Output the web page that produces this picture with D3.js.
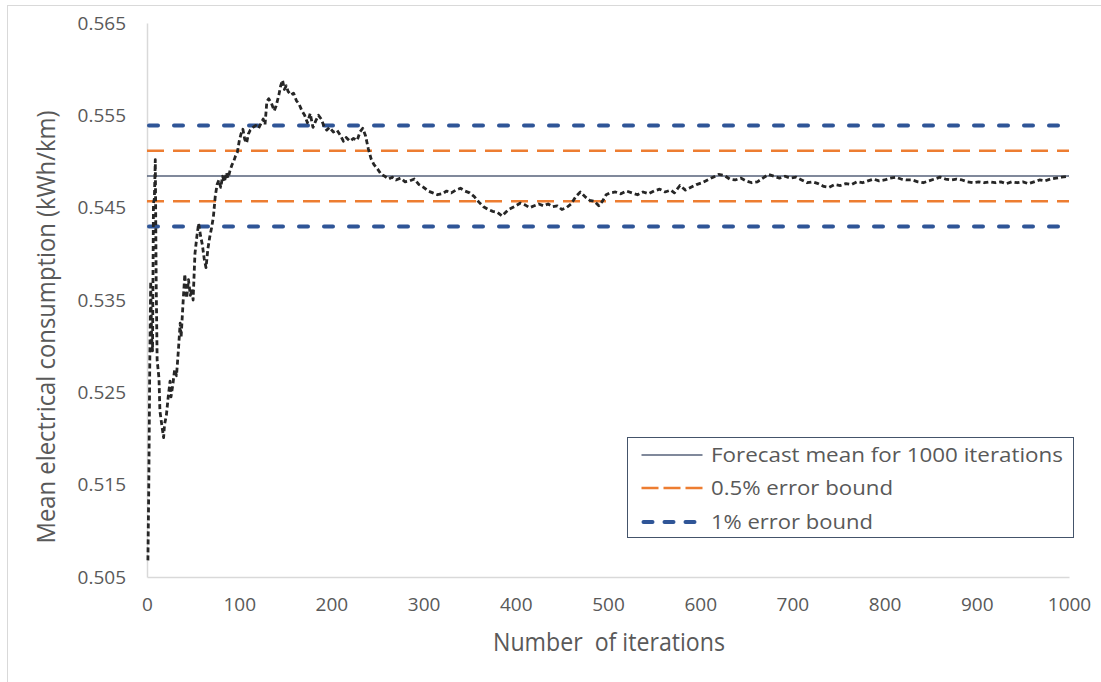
<!DOCTYPE html>
<html>
<head>
<meta charset="utf-8">
<script src="https://cdn.jsdelivr.net/npm/d3@7"></script>
<style>
  html, body { margin: 0; padding: 0; background: #fff; }
  svg { display: block; font-family: "Open Sans", sans-serif; }
</style>
</head>
<body>
<div id="chart"></div>
<script>
// running mean after n iterations
const iterations = [
  1, 2, 3, 4, 5, 6, 7, 8, 9, 10, 11, 12, 13, 14, 16, 18, 19, 21, 23, 25,
  26, 28, 30, 32, 34, 36, 37, 39, 41, 43, 45, 47, 49, 50, 52, 54, 56, 58, 60, 62,
  64, 66, 68, 70, 72, 74, 76, 78, 80, 82, 84, 86, 88, 90, 92, 94, 96, 98, 100, 102,
  104, 106, 108, 110, 112, 115, 118, 121, 124, 126, 128, 130, 132, 135, 138, 140, 143, 145, 147, 149,
  151, 153, 156, 159, 162, 165, 168, 171, 174, 177, 180, 183, 186, 189, 192, 195, 198, 202, 206, 210,
  213, 216, 220, 224, 228, 231, 234, 237, 240, 243, 246, 250, 254, 258, 262, 266, 270, 275, 280, 285,
  290, 295, 300, 305, 310, 315, 320, 325, 330, 335, 340, 345, 350, 355, 360, 365, 370, 375, 380, 385,
  388, 392, 396, 400, 405, 410, 415, 420, 425, 430, 435, 440, 445, 450, 455, 460, 465, 470, 475, 480,
  485, 490, 494, 498, 502, 508, 514, 520, 526, 532, 538, 544, 550, 556, 562, 568, 572, 578, 584, 590,
  596, 602, 608, 614, 620, 626, 632, 638, 644, 650, 656, 662, 668, 674, 680, 686, 692, 698, 704, 710,
  716, 722, 728, 734, 740, 746, 752, 758, 764, 770, 776, 782, 788, 794, 800, 806, 812, 818, 824, 830,
  836, 842, 848, 854, 860, 866, 872, 878, 884, 890, 896, 902, 908, 914, 920, 926, 932, 938, 944, 950,
  956, 962, 968, 974, 980, 986, 992, 1000
];
const meanValues = [
  0.5068, 0.5155, 0.5280, 0.5370, 0.5310, 0.5295, 0.5455, 0.5460, 0.5502, 0.5365, 0.5285, 0.5275, 0.5265, 0.5230, 0.5215, 0.5201, 0.5215, 0.5225, 0.5245, 0.5262,
  0.5245, 0.5258, 0.5275, 0.5268, 0.5295, 0.5325, 0.5310, 0.5345, 0.5378, 0.5352, 0.5372, 0.5355, 0.5362, 0.5350, 0.5400, 0.5418, 0.5433, 0.5420, 0.5410, 0.5395,
  0.5385, 0.5405, 0.5418, 0.5428, 0.5440, 0.5462, 0.5475, 0.5480, 0.5472, 0.5484, 0.5478, 0.5488, 0.5482, 0.5490, 0.5496, 0.5500, 0.5506, 0.5510, 0.5522, 0.5530,
  0.5535, 0.5524, 0.5520, 0.5530, 0.5534, 0.5537, 0.5539, 0.5536, 0.5542, 0.5546, 0.5540, 0.5565, 0.5568, 0.5563, 0.5555, 0.5560, 0.5572, 0.5582, 0.5588, 0.5578,
  0.5582, 0.5576, 0.5572, 0.5574, 0.5566, 0.5562, 0.5555, 0.5550, 0.5542, 0.5552, 0.5537, 0.5544, 0.5550, 0.5546, 0.5538, 0.5534, 0.5537, 0.5532, 0.5534, 0.5528,
  0.5522, 0.5526, 0.5522, 0.5525, 0.5523, 0.5532, 0.5536, 0.5528, 0.5514, 0.5503, 0.5497, 0.5492, 0.5486, 0.5484, 0.5481, 0.5483, 0.5480, 0.5482, 0.5478, 0.5479,
  0.5481, 0.5475, 0.5472, 0.5468, 0.5466, 0.5464, 0.5465, 0.5468, 0.5466, 0.5469, 0.5471, 0.5468, 0.5466, 0.5462, 0.5456, 0.5451, 0.5448, 0.5446, 0.5445, 0.5441,
  0.5444, 0.5448, 0.5450, 0.5452, 0.5455, 0.5453, 0.5450, 0.5452, 0.5454, 0.5452, 0.5454, 0.5451, 0.5452, 0.5448, 0.5450, 0.5454, 0.5462, 0.5467, 0.5462, 0.5458,
  0.5457, 0.5452, 0.5457, 0.5464, 0.5466, 0.5467, 0.5465, 0.5468, 0.5466, 0.5464, 0.5467, 0.5465, 0.5468, 0.5470, 0.5467, 0.5469, 0.5466, 0.5474, 0.5469, 0.5472,
  0.5475, 0.5477, 0.5480, 0.5483, 0.5486, 0.5485, 0.5481, 0.5480, 0.5482, 0.5479, 0.5477, 0.5478, 0.5482, 0.5486, 0.5484, 0.5482, 0.5484, 0.5482, 0.5483, 0.5480,
  0.5477, 0.5478, 0.5476, 0.5473, 0.5472, 0.5475, 0.5474, 0.5476, 0.5475, 0.5478, 0.5477, 0.5479, 0.5481, 0.5479, 0.5480, 0.5482, 0.5483, 0.5481, 0.5480, 0.5480,
  0.5478, 0.5477, 0.5479, 0.5481, 0.5483, 0.5481, 0.5480, 0.5481, 0.5480, 0.5478, 0.5477, 0.5478, 0.5477, 0.5478, 0.5477, 0.5478, 0.5476, 0.5478, 0.5477, 0.5478,
  0.5476, 0.5478, 0.5480, 0.5479, 0.5481, 0.5482, 0.5483, 0.5484
];

// horizontal reference lines
const forecastMean = 0.54843;
const bounds05 = [0.55117, 0.54569];
const bounds1 = [0.55391, 0.54295];

const xTicks = [0, 100, 200, 300, 400, 500, 600, 700, 800, 900, 1000];
const yTicks = [0.505, 0.515, 0.525, 0.535, 0.545, 0.555, 0.565];

const legendLabels = ["Forecast mean for 1000 iterations", "0.5% error bound", "1% error bound"];

const width = 1101, height = 682;
const plot = { left: 147, right: 1069, top: 23, bottom: 577 };

const grey = "#595959";
const orange = "#ED7D31";
const blue = "#2F5597";
const meanColor = "#56627A";

const svg = d3.select("#chart").append("svg")
  .attr("width", width)
  .attr("height", height);

// chart area frame (only left/top edges fall inside the picture)
svg.append("rect")
  .attr("x", 7.5).attr("y", 5.5)
  .attr("width", 1110).attr("height", 700)
  .attr("fill", "none")
  .attr("stroke", "#D9D9D9");

const x = d3.scaleLinear().domain([0, 1000]).range([plot.left, plot.right]);
const y = d3.scaleLinear().domain([0.505, 0.565]).range([plot.bottom, plot.top]);

// axes
const yAxis = svg.append("g")
  .attr("transform", `translate(${plot.left},0)`)
  .call(d3.axisLeft(y).tickValues(yTicks).tickSize(0).tickPadding(21).tickFormat(d3.format(".3f")));
yAxis.select(".domain").attr("stroke", "#D9D9D9").attr("stroke-width", 1.5);
yAxis.selectAll("text")
  .attr("fill", grey)
  .style("font-size", "19px")
  .style("font-family", "'Open Sans', sans-serif");

const xAxis = svg.append("g")
  .attr("transform", `translate(0,${plot.bottom})`)
  .call(d3.axisBottom(x).tickValues(xTicks).tickSize(0).tickPadding(21).tickFormat(d3.format("d")));
xAxis.select(".domain").attr("stroke", "#D9D9D9").attr("stroke-width", 1.5);
xAxis.selectAll("text")
  .attr("fill", grey)
  .style("font-size", "19px")
  .style("font-family", "'Open Sans', sans-serif");

// reference lines
const hline = (v, color, w, dash, cap) =>
  svg.append("line")
    .attr("x1", x(0)).attr("x2", x(1000))
    .attr("y1", y(v)).attr("y2", y(v))
    .attr("stroke", color)
    .attr("stroke-width", w)
    .attr("stroke-dasharray", dash)
    .attr("stroke-linecap", cap);

bounds1.forEach((v) => hline(v, blue, 4, "9,16", "round").attr("x1", x(0) + 2));
bounds05.forEach((v) => hline(v, orange, 2.6, "17,9", "butt"));
hline(forecastMean, meanColor, 1.3, null, "butt");

// running mean
const line = d3.line()
  .x((d, i) => x(iterations[i]))
  .y((d) => y(d));

svg.append("path")
  .datum(meanValues)
  .attr("d", line)
  .attr("fill", "none")
  .attr("stroke", "#262626")
  .attr("stroke-width", 2.8)
  .attr("stroke-dasharray", "5,3")
  .attr("stroke-linejoin", "round");

// axis titles
svg.append("text")
  .attr("transform", "translate(55,327) rotate(-90)")
  .attr("text-anchor", "middle")
  .attr("fill", grey)
  .style("font-size", "25px")
  .attr("textLength", 433)
  .attr("lengthAdjust", "spacingAndGlyphs")
  .text("Mean electrical consumption (kWh/km)");

svg.append("text")
  .attr("x", 609).attr("y", 651)
  .attr("text-anchor", "middle")
  .attr("fill", grey)
  .style("font-size", "25px")
  .style("white-space", "pre")
  .attr("textLength", 232)
  .attr("lengthAdjust", "spacingAndGlyphs")
  .text("Number  of iterations");

// legend
const legend = svg.append("g").attr("transform", "translate(627.5,437.5)");
legend.append("rect")
  .attr("width", 446).attr("height", 100)
  .attr("fill", "#fff")
  .attr("stroke", "#44546A")
  .attr("stroke-width", 1);

const legendStyles = [
  { color: meanColor, w: 1.3, dash: null, cap: "butt" },
  { color: orange, w: 2.6, dash: "17,5", cap: "butt" },
  { color: blue, w: 4, dash: "9,12", cap: "round" },
];
const legendRows = [17.5, 50.5, 84.5];
const legendWidths = [352, 182, 162];

legendLabels.forEach((label, i) => {
  const s = legendStyles[i];
  legend.append("line")
    .attr("x1", 14 + (s.cap === "round" ? 2 : 0)).attr("x2", 75 - (s.cap === "round" ? 2 : 0))
    .attr("y1", legendRows[i]).attr("y2", legendRows[i])
    .attr("stroke", s.color)
    .attr("stroke-width", s.w)
    .attr("stroke-dasharray", s.dash)
    .attr("stroke-linecap", s.cap);
  legend.append("text")
    .attr("x", 83.5).attr("y", legendRows[i] + 7)
    .attr("fill", grey)
    .style("font-size", "20px")
    .attr("textLength", legendWidths[i])
    .attr("lengthAdjust", "spacingAndGlyphs")
    .text(label);
});
</script>
</body>
</html>
